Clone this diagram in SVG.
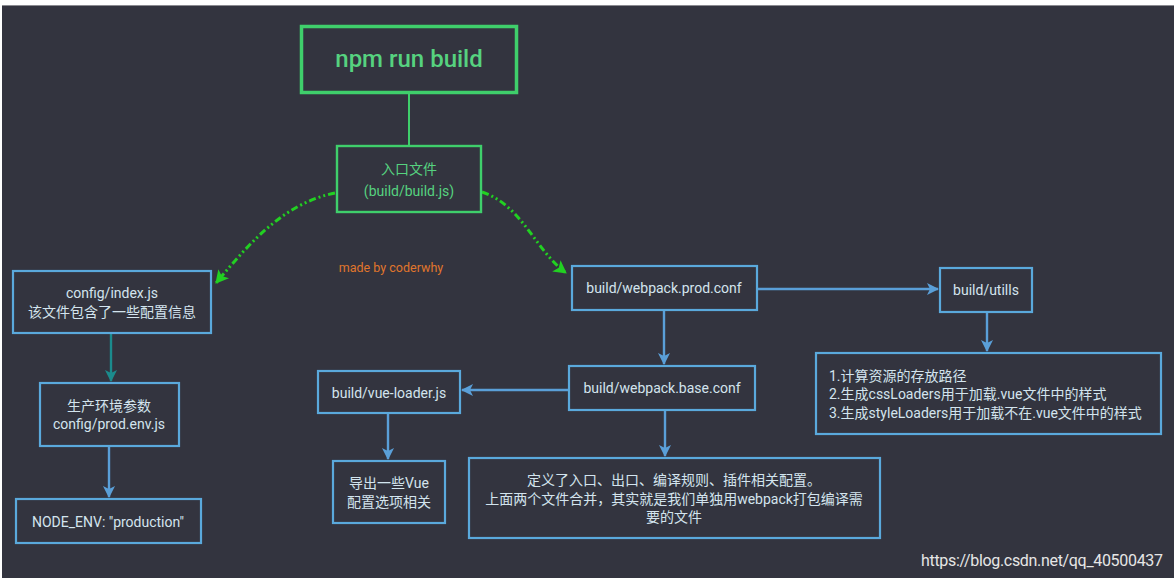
<svg xmlns="http://www.w3.org/2000/svg" width="1174" height="580" viewBox="0 0 1174 580">
<style>
text{font-family:Roboto,"Noto Sans CJK SC","Noto Sans",sans-serif;}
.bx{fill:none;stroke:#5aa9dc;stroke-width:2.2;}
.gbx{fill:none;stroke:#3fcf6b;}
.t{fill:#d3e4ee;font-size:14px;text-anchor:middle;}
.tl{fill:#d3e4ee;font-size:14px;}
.g{fill:#56d27f;text-anchor:middle;}
.ar{stroke:#5a9fd8;stroke-width:2.4;fill:none;}
.gd{stroke:#22d022;stroke-width:3;fill:none;stroke-dasharray:7 3 2 3 2 3;}
</style>
<defs>
<marker id="ab" markerUnits="userSpaceOnUse" markerWidth="14" markerHeight="14" refX="11" refY="6" orient="auto"><path d="M0,0 L12,6 L0,12 L3,6 z" fill="#5a9fd8"/></marker>
<marker id="at" markerUnits="userSpaceOnUse" markerWidth="14" markerHeight="14" refX="11" refY="6" orient="auto"><path d="M0,0 L12,6 L0,12 L3,6 z" fill="#1b8b8d"/></marker>
<marker id="ag" markerUnits="userSpaceOnUse" markerWidth="16" markerHeight="16" refX="12" refY="7" orient="auto"><path d="M0,0 L13,7 L0,14 L3,7 z" fill="#22d022"/></marker>
</defs>
<rect x="0" y="0" width="1174" height="580" fill="#ffffff"/>
<rect x="2" y="5" width="1172" height="573" fill="#33343f"/>
<line x1="2" y1="5.5" x2="1174" y2="5.5" stroke="#8a8a90" stroke-width="1"/>

<g id="connectors">
<line x1="409" y1="94" x2="409" y2="146" stroke="#3fcf6b" stroke-width="2"/>
<path class="gd" d="M335,193 C285,203 252,240 216,283" marker-end="url(#ag)"/>
<path class="gd" d="M482,192 C522,205 535,250 566,273" marker-end="url(#ag)"/>
<line x1="111" y1="334" x2="111" y2="381" stroke="#1b8b8d" stroke-width="2.4" marker-end="url(#at)"/>
<line class="ar" x1="109" y1="447" x2="109" y2="497" marker-end="url(#ab)"/>
<line class="ar" x1="758" y1="289" x2="938" y2="289" marker-end="url(#ab)"/>
<line class="ar" x1="987" y1="313" x2="987" y2="351" marker-end="url(#ab)"/>
<line class="ar" x1="664" y1="311" x2="664" y2="364" marker-end="url(#ab)"/>
<line class="ar" x1="568" y1="390" x2="462" y2="390" marker-end="url(#ab)"/>
<line class="ar" x1="665" y1="411" x2="665" y2="456" marker-end="url(#ab)"/>
<line class="ar" x1="388" y1="414" x2="388" y2="459" marker-end="url(#ab)"/>
</g>

<g id="npm-run-build">
<rect class="gbx" x="301.5" y="26.5" width="215" height="66" stroke-width="3.5"/>
<text class="g" x="409" y="67" font-size="24" font-weight="500">npm run build</text>
</g>
<g id="entry">
<rect class="gbx" x="337" y="146" width="144" height="66" stroke-width="2.4"/>
<text class="g" x="409" y="174" font-size="14">入口文件</text>
<text class="g" x="409" y="196" font-size="14">(build/build.js)</text>
</g>
<g id="watermark-made">
<text x="391" y="272" font-size="12.5" fill="#e0762c" text-anchor="middle" font-family="Roboto,sans-serif">made by coderwhy</text>
</g>
<g id="config-index">
<rect class="bx" x="13" y="271" width="198" height="62"/>
<text class="t" x="112" y="298">config/index.js</text>
<text class="t" x="112" y="317">该文件包含了一些配置信息</text>
</g>
<g id="prod-env">
<rect class="bx" x="40" y="383" width="139" height="63"/>
<text class="t" x="109" y="411">生产环境参数</text>
<text class="t" x="109" y="429">config/prod.env.js</text>
</g>
<g id="node-env">
<rect class="bx" x="16" y="499" width="185" height="44"/>
<text class="t" x="108" y="527">NODE_ENV: "production"</text>
</g>
<g id="webpack-prod">
<rect class="bx" x="572" y="266" width="185" height="44"/>
<text class="t" x="664" y="293">build/webpack.prod.conf</text>
</g>
<g id="utills">
<rect class="bx" x="940" y="268" width="92" height="44"/>
<text class="t" x="986" y="295">build/utills</text>
</g>
<g id="utills-desc">
<rect class="bx" x="816" y="353" width="345" height="81"/>
<text class="tl" x="829" y="381">1.计算资源的存放路径</text>
<text class="tl" x="829" y="399">2.生成cssLoaders用于加载.vue文件中的样式</text>
<text class="tl" x="829" y="418">3.生成styleLoaders用于加载不在.vue文件中的样式</text>
</g>
<g id="webpack-base">
<rect class="bx" x="569" y="366" width="186" height="44"/>
<text class="t" x="662" y="393">build/webpack.base.conf</text>
</g>
<g id="vue-loader">
<rect class="bx" x="318" y="371" width="142" height="42"/>
<text class="t" x="389" y="398">build/vue-loader.js</text>
</g>
<g id="vue-options">
<rect class="bx" x="333" y="461" width="112" height="62"/>
<text class="t" x="389" y="488">导出一些Vue</text>
<text class="t" x="389" y="507">配置选项相关</text>
</g>
<g id="base-desc">
<rect class="bx" x="469" y="458" width="411" height="80"/>
<text class="t" x="674" y="485">定义了入口、出口、编译规则、插件相关配置。</text>
<text class="t" x="674" y="504">上面两个文件合并，其实就是我们单独用webpack打包编译需</text>
<text class="t" x="674" y="522">要的文件</text>
</g>
<text x="921" y="566" font-size="16" fill="#e6e6e6" font-family="'Liberation Sans',Arial,sans-serif" textLength="242">https://blog.csdn.net/qq_40500437</text>
</svg>
